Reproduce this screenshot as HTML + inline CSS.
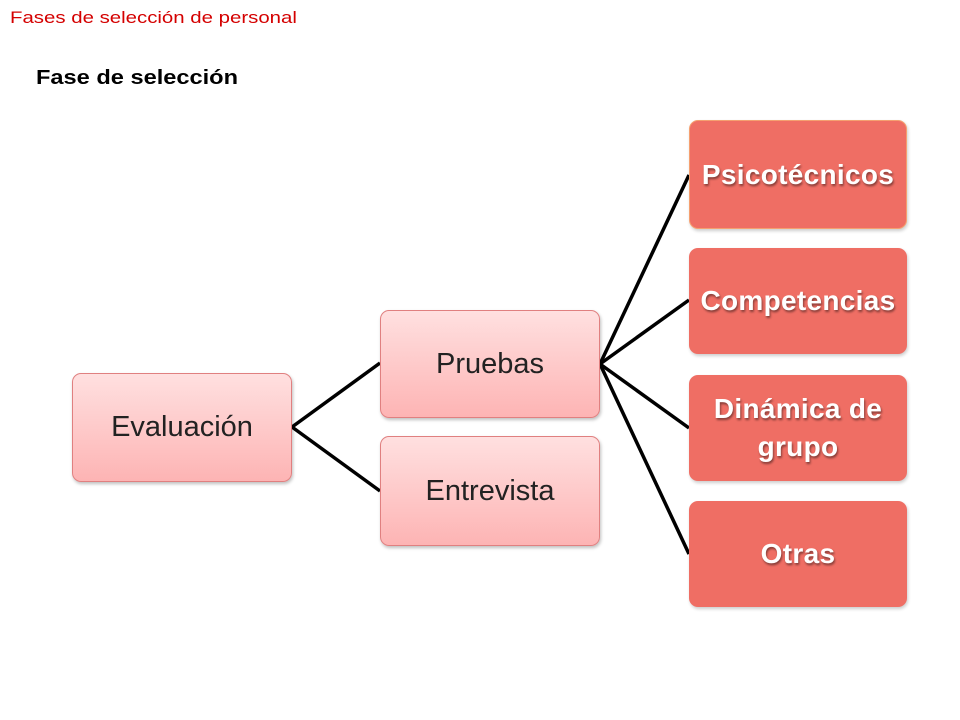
<!DOCTYPE html>
<html><head><meta charset="utf-8"><style>
body{margin:0;width:960px;height:720px;background:#fff;position:relative;overflow:hidden;font-family:"Liberation Sans",sans-serif}
.t1{position:absolute;left:10px;top:8px;font-size:17px;color:#d40000;transform:scaleX(1.2);transform-origin:0 0;white-space:nowrap}
.t2{position:absolute;left:36px;top:67px;font-size:20px;font-weight:bold;color:#000;transform:scaleX(1.18);transform-origin:0 0;white-space:nowrap}
.b{position:absolute;box-sizing:border-box;display:flex;align-items:center;justify-content:center;text-align:center;border-radius:9px}
.l{background:linear-gradient(#ffe0e0,#fdb4b4);border:1px solid #e08080;font-size:29px;color:#222;box-shadow:1px 2px 3px rgba(0,0,0,.25)}
.r{background:#ef6e64;color:#fff;font-weight:bold;font-size:28px;line-height:38px;text-shadow:1px 2px 2px rgba(0,0,0,.45);box-shadow:1px 2px 3px rgba(0,0,0,.2);letter-spacing:0.3px}
</style></head><body>
<div class="t1">Fases de selección de personal</div>
<div class="t2">Fase de selección</div>
<svg width="960" height="720" style="position:absolute;left:0;top:0">
<g stroke="#000" stroke-width="3.5" fill="none">
<line x1="292" y1="427" x2="380" y2="363"/>
<line x1="292" y1="427" x2="380" y2="491"/>
<line x1="600" y1="364" x2="689" y2="175"/>
<line x1="600" y1="364" x2="689" y2="300"/>
<line x1="600" y1="364" x2="689" y2="428"/>
<line x1="600" y1="364" x2="689" y2="554"/>
</g></svg>
<div class="b l" style="left:72px;top:373px;width:220px;height:109px">Evaluación</div>
<div class="b l" style="left:380px;top:310px;width:220px;height:108px">Pruebas</div>
<div class="b l" style="left:380px;top:436px;width:220px;height:110px">Entrevista</div>
<div class="b r" style="left:689px;top:120px;width:218px;height:109px;border:1px solid #f5a070">Psicotécnicos</div>
<div class="b r" style="left:689px;top:248px;width:218px;height:106px">Competencias</div>
<div class="b r" style="left:689px;top:375px;width:218px;height:106px">Dinámica de<br>grupo</div>
<div class="b r" style="left:689px;top:501px;width:218px;height:106px">Otras</div>
</body></html>
